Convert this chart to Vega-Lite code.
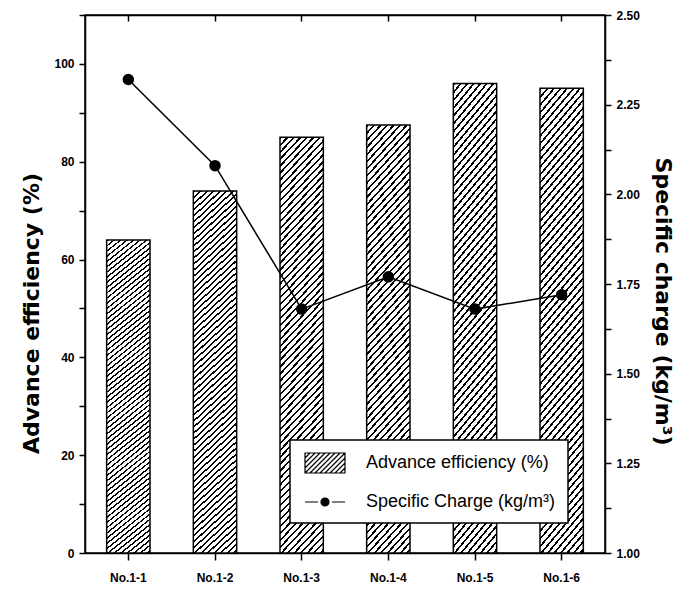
{
  "$schema": "https://vega.github.io/schema/vega-lite/v6.json",
  "width": 520,
  "height": 538,
  "autosize": {"type": "none"},
  "padding": {"left": 85, "top": 15, "right": 73, "bottom": 43},
  "background": "white",
  "config": {
    "view": {"stroke": "black", "strokeWidth": 1.5},
    "font": "Liberation Sans",
    "axis": {
      "domainColor": "black", "domainWidth": 1.5, "tickColor": "black", "tickWidth": 1.5,
      "labelColor": "black", "titleColor": "black", "labelFont": "Liberation Sans",
      "labelFontWeight": "bold", "labelFontSize": 12, "titleFont": "DejaVu Sans",
      "titleFontWeight": "bold", "titleFontSize": 22, "grid": false
    },
    "legend": {
      "orient": "none", "legendX": 205, "legendY": 425, "title": null,
      "labelFont": "Liberation Sans", "labelFontSize": 18, "labelColor": "black", "labelLimit": 400,
      "strokeColor": "black", "fillColor": "white", "padding": 12, "rowPadding": 15,
      "symbolSize": 400, "symbolOffset": 12, "labelOffset": 30
    }
  },
  "data": {
    "values": [
      {"no": "No.1-1", "eff": 64, "charge": 2.32},
      {"no": "No.1-2", "eff": 74, "charge": 2.08},
      {"no": "No.1-3", "eff": 85, "charge": 1.68},
      {"no": "No.1-4", "eff": 87.5, "charge": 1.77},
      {"no": "No.1-5", "eff": 96, "charge": 1.68},
      {"no": "No.1-6", "eff": 95, "charge": 1.72}
    ]
  },
  "layer": [
    {
      "mark": {
        "type": "bar",
        "strokeWidth": 1.5,
        "fill": {
          "gradient": "linear", "x1": 0, "y1": 0, "x2": 0.122, "y2": 1.098,
          "stops": [
{"offset":0,"color":"#000"},{"offset":0.005,"color":"#000"},{"offset":0.005,"color":"#fff"},{"offset":0.015,"color":"#fff"},
{"offset":0.015,"color":"#000"},{"offset":0.02,"color":"#000"},{"offset":0.02,"color":"#fff"},{"offset":0.03,"color":"#fff"},
{"offset":0.03,"color":"#000"},{"offset":0.035,"color":"#000"},{"offset":0.035,"color":"#fff"},{"offset":0.045,"color":"#fff"},
{"offset":0.045,"color":"#000"},{"offset":0.05,"color":"#000"},{"offset":0.05,"color":"#fff"},{"offset":0.06,"color":"#fff"},
{"offset":0.06,"color":"#000"},{"offset":0.065,"color":"#000"},{"offset":0.065,"color":"#fff"},{"offset":0.075,"color":"#fff"},
{"offset":0.075,"color":"#000"},{"offset":0.08,"color":"#000"},{"offset":0.08,"color":"#fff"},{"offset":0.09,"color":"#fff"},
{"offset":0.09,"color":"#000"},{"offset":0.095,"color":"#000"},{"offset":0.095,"color":"#fff"},{"offset":0.105,"color":"#fff"},
{"offset":0.105,"color":"#000"},{"offset":0.11,"color":"#000"},{"offset":0.11,"color":"#fff"},{"offset":0.12,"color":"#fff"},
{"offset":0.12,"color":"#000"},{"offset":0.125,"color":"#000"},{"offset":0.125,"color":"#fff"},{"offset":0.135,"color":"#fff"},
{"offset":0.135,"color":"#000"},{"offset":0.14,"color":"#000"},{"offset":0.14,"color":"#fff"},{"offset":0.15,"color":"#fff"},
{"offset":0.15,"color":"#000"},{"offset":0.155,"color":"#000"},{"offset":0.155,"color":"#fff"},{"offset":0.165,"color":"#fff"},
{"offset":0.165,"color":"#000"},{"offset":0.17,"color":"#000"},{"offset":0.17,"color":"#fff"},{"offset":0.18,"color":"#fff"},
{"offset":0.18,"color":"#000"},{"offset":0.185,"color":"#000"},{"offset":0.185,"color":"#fff"},{"offset":0.195,"color":"#fff"},
{"offset":0.195,"color":"#000"},{"offset":0.2,"color":"#000"},{"offset":0.2,"color":"#fff"},{"offset":0.21,"color":"#fff"},
{"offset":0.21,"color":"#000"},{"offset":0.215,"color":"#000"},{"offset":0.215,"color":"#fff"},{"offset":0.225,"color":"#fff"},
{"offset":0.225,"color":"#000"},{"offset":0.23,"color":"#000"},{"offset":0.23,"color":"#fff"},{"offset":0.24,"color":"#fff"},
{"offset":0.24,"color":"#000"},{"offset":0.245,"color":"#000"},{"offset":0.245,"color":"#fff"},{"offset":0.255,"color":"#fff"},
{"offset":0.255,"color":"#000"},{"offset":0.26,"color":"#000"},{"offset":0.26,"color":"#fff"},{"offset":0.27,"color":"#fff"},
{"offset":0.27,"color":"#000"},{"offset":0.275,"color":"#000"},{"offset":0.275,"color":"#fff"},{"offset":0.285,"color":"#fff"},
{"offset":0.285,"color":"#000"},{"offset":0.29,"color":"#000"},{"offset":0.29,"color":"#fff"},{"offset":0.3,"color":"#fff"},
{"offset":0.3,"color":"#000"},{"offset":0.305,"color":"#000"},{"offset":0.305,"color":"#fff"},{"offset":0.315,"color":"#fff"},
{"offset":0.315,"color":"#000"},{"offset":0.32,"color":"#000"},{"offset":0.32,"color":"#fff"},{"offset":0.33,"color":"#fff"},
{"offset":0.33,"color":"#000"},{"offset":0.335,"color":"#000"},{"offset":0.335,"color":"#fff"},{"offset":0.345,"color":"#fff"},
{"offset":0.345,"color":"#000"},{"offset":0.35,"color":"#000"},{"offset":0.35,"color":"#fff"},{"offset":0.36,"color":"#fff"},
{"offset":0.36,"color":"#000"},{"offset":0.365,"color":"#000"},{"offset":0.365,"color":"#fff"},{"offset":0.375,"color":"#fff"},
{"offset":0.375,"color":"#000"},{"offset":0.38,"color":"#000"},{"offset":0.38,"color":"#fff"},{"offset":0.39,"color":"#fff"},
{"offset":0.39,"color":"#000"},{"offset":0.395,"color":"#000"},{"offset":0.395,"color":"#fff"},{"offset":0.405,"color":"#fff"},
{"offset":0.405,"color":"#000"},{"offset":0.41,"color":"#000"},{"offset":0.41,"color":"#fff"},{"offset":0.42,"color":"#fff"},
{"offset":0.42,"color":"#000"},{"offset":0.425,"color":"#000"},{"offset":0.425,"color":"#fff"},{"offset":0.435,"color":"#fff"},
{"offset":0.435,"color":"#000"},{"offset":0.44,"color":"#000"},{"offset":0.44,"color":"#fff"},{"offset":0.45,"color":"#fff"},
{"offset":0.45,"color":"#000"},{"offset":0.455,"color":"#000"},{"offset":0.455,"color":"#fff"},{"offset":0.465,"color":"#fff"},
{"offset":0.465,"color":"#000"},{"offset":0.47,"color":"#000"},{"offset":0.47,"color":"#fff"},{"offset":0.48,"color":"#fff"},
{"offset":0.48,"color":"#000"},{"offset":0.485,"color":"#000"},{"offset":0.485,"color":"#fff"},{"offset":0.495,"color":"#fff"},
{"offset":0.495,"color":"#000"},{"offset":0.5,"color":"#000"},{"offset":0.5,"color":"#fff"},{"offset":0.51,"color":"#fff"},
{"offset":0.51,"color":"#000"},{"offset":0.515,"color":"#000"},{"offset":0.515,"color":"#fff"},{"offset":0.525,"color":"#fff"},
{"offset":0.525,"color":"#000"},{"offset":0.53,"color":"#000"},{"offset":0.53,"color":"#fff"},{"offset":0.54,"color":"#fff"},
{"offset":0.54,"color":"#000"},{"offset":0.545,"color":"#000"},{"offset":0.545,"color":"#fff"},{"offset":0.555,"color":"#fff"},
{"offset":0.555,"color":"#000"},{"offset":0.56,"color":"#000"},{"offset":0.56,"color":"#fff"},{"offset":0.57,"color":"#fff"},
{"offset":0.57,"color":"#000"},{"offset":0.575,"color":"#000"},{"offset":0.575,"color":"#fff"},{"offset":0.585,"color":"#fff"},
{"offset":0.585,"color":"#000"},{"offset":0.59,"color":"#000"},{"offset":0.59,"color":"#fff"},{"offset":0.6,"color":"#fff"},
{"offset":0.6,"color":"#000"},{"offset":0.605,"color":"#000"},{"offset":0.605,"color":"#fff"},{"offset":0.615,"color":"#fff"},
{"offset":0.615,"color":"#000"},{"offset":0.62,"color":"#000"},{"offset":0.62,"color":"#fff"},{"offset":0.63,"color":"#fff"},
{"offset":0.63,"color":"#000"},{"offset":0.635,"color":"#000"},{"offset":0.635,"color":"#fff"},{"offset":0.645,"color":"#fff"},
{"offset":0.645,"color":"#000"},{"offset":0.65,"color":"#000"},{"offset":0.65,"color":"#fff"},{"offset":0.66,"color":"#fff"},
{"offset":0.66,"color":"#000"},{"offset":0.665,"color":"#000"},{"offset":0.665,"color":"#fff"},{"offset":0.675,"color":"#fff"},
{"offset":0.675,"color":"#000"},{"offset":0.68,"color":"#000"},{"offset":0.68,"color":"#fff"},{"offset":0.69,"color":"#fff"},
{"offset":0.69,"color":"#000"},{"offset":0.695,"color":"#000"},{"offset":0.695,"color":"#fff"},{"offset":0.705,"color":"#fff"},
{"offset":0.705,"color":"#000"},{"offset":0.71,"color":"#000"},{"offset":0.71,"color":"#fff"},{"offset":0.72,"color":"#fff"},
{"offset":0.72,"color":"#000"},{"offset":0.725,"color":"#000"},{"offset":0.725,"color":"#fff"},{"offset":0.735,"color":"#fff"},
{"offset":0.735,"color":"#000"},{"offset":0.74,"color":"#000"},{"offset":0.74,"color":"#fff"},{"offset":0.75,"color":"#fff"},
{"offset":0.75,"color":"#000"},{"offset":0.755,"color":"#000"},{"offset":0.755,"color":"#fff"},{"offset":0.765,"color":"#fff"},
{"offset":0.765,"color":"#000"},{"offset":0.77,"color":"#000"},{"offset":0.77,"color":"#fff"},{"offset":0.78,"color":"#fff"},
{"offset":0.78,"color":"#000"},{"offset":0.785,"color":"#000"},{"offset":0.785,"color":"#fff"},{"offset":0.795,"color":"#fff"},
{"offset":0.795,"color":"#000"},{"offset":0.8,"color":"#000"},{"offset":0.8,"color":"#fff"},{"offset":0.81,"color":"#fff"},
{"offset":0.81,"color":"#000"},{"offset":0.815,"color":"#000"},{"offset":0.815,"color":"#fff"},{"offset":0.825,"color":"#fff"},
{"offset":0.825,"color":"#000"},{"offset":0.83,"color":"#000"},{"offset":0.83,"color":"#fff"},{"offset":0.84,"color":"#fff"},
{"offset":0.84,"color":"#000"},{"offset":0.845,"color":"#000"},{"offset":0.845,"color":"#fff"},{"offset":0.855,"color":"#fff"},
{"offset":0.855,"color":"#000"},{"offset":0.86,"color":"#000"},{"offset":0.86,"color":"#fff"},{"offset":0.87,"color":"#fff"},
{"offset":0.87,"color":"#000"},{"offset":0.875,"color":"#000"},{"offset":0.875,"color":"#fff"},{"offset":0.885,"color":"#fff"},
{"offset":0.885,"color":"#000"},{"offset":0.89,"color":"#000"},{"offset":0.89,"color":"#fff"},{"offset":0.9,"color":"#fff"},
{"offset":0.9,"color":"#000"},{"offset":0.905,"color":"#000"},{"offset":0.905,"color":"#fff"},{"offset":0.915,"color":"#fff"},
{"offset":0.915,"color":"#000"},{"offset":0.92,"color":"#000"},{"offset":0.92,"color":"#fff"},{"offset":0.93,"color":"#fff"},
{"offset":0.93,"color":"#000"},{"offset":0.935,"color":"#000"},{"offset":0.935,"color":"#fff"},{"offset":0.945,"color":"#fff"},
{"offset":0.945,"color":"#000"},{"offset":0.95,"color":"#000"},{"offset":0.95,"color":"#fff"},{"offset":0.96,"color":"#fff"},
{"offset":0.96,"color":"#000"},{"offset":0.965,"color":"#000"},{"offset":0.965,"color":"#fff"},{"offset":0.975,"color":"#fff"},
{"offset":0.975,"color":"#000"},{"offset":0.98,"color":"#000"},{"offset":0.98,"color":"#fff"},{"offset":0.99,"color":"#fff"},
{"offset":0.99,"color":"#000"},{"offset":0.995,"color":"#000"},{"offset":0.995,"color":"#fff"},{"offset":1,"color":"#fff"}
          ]
        }
      },
      "encoding": {
        "x": {
          "field": "no", "type": "nominal", "sort": null,
          "scale": {"paddingInner": 0.5, "paddingOuter": 0.25},
          "axis": {"orient": "bottom", "title": null, "labelAngle": 0, "tickSize": 7, "labelPadding": 12}
        },
        "y": {
          "field": "eff", "type": "quantitative",
          "scale": {"domain": [0, 110], "nice": false},
          "axis": {
            "orient": "left", "title": "Advance efficiency (%)",
            "values": [0, 10, 20, 30, 40, 50, 60, 70, 80, 90, 100, 110],
            "labelExpr": "datum.value % 20 ? '' : datum.label",
            "labelPadding": 5, "titlePadding": 10, "tickSize": 6, "titleY": 298,
            "encode": {"ticks": {"update": {"x2": {"signal": "datum.value % 20 ? -3 : -6"}}}}
          }
        },
        "stroke": {
          "datum": "Advance efficiency (%)", "type": "nominal",
          "scale": {"domain": ["Advance efficiency (%)", "Specific Charge (kg/m³)"], "range": ["black", "black"]},
          "legend": {
            "encode": {
              "legend": {"update": {"strokeWidth": {"value": 1.5}}},
              "symbols": {"update": {
                "shape": {"signal": "datum.value === 'Advance efficiency (%)' ? 'M-2,-1H2V1H-2Z M-2,-0.5L-1.5,-1 M-2,0L-1,-1 M-2,0.5L-0.5,-1 M-2,1L0,-1 M-1.5,1L0.5,-1 M-1,1L1,-1 M-0.5,1L1.5,-1 M0,1L2,-1 M0.5,1L2,-0.5 M1,1L2,0 M1.5,1L2,0.5' : 'M-2,0H-0.7 M0.7,0H2 M-0.4,0A0.4,0.4 0 1,1 0.4,0A0.4,0.4 0 1,1 -0.4,0Z'"},
                "fill": {"signal": "datum.value === 'Advance efficiency (%)' ? 'white' : 'black'"},
                "stroke": {"value": "black"},
                "strokeWidth": {"value": 1.2},
                "size": {"value": 400},
                "opacity": {"value": 1}
              }}
            }
          }
        }
      }
    },
    {
      "mark": {"type": "line", "strokeWidth": 1.5, "point": {"filled": true, "fill": "black", "size": 90}},
      "encoding": {
        "x": {
          "field": "no", "type": "nominal", "sort": null,
          "axis": {"orient": "top", "title": null, "labels": false, "tickSize": -6}
        },
        "y": {
          "field": "charge", "type": "quantitative",
          "scale": {"domain": [1, 2.5], "nice": false},
          "axis": {
            "orient": "right", "title": "Specific charge (kg/m³)",
            "values": [1, 1.125, 1.25, 1.375, 1.5, 1.625, 1.75, 1.875, 2, 2.125, 2.25, 2.375, 2.5],
            "labelExpr": "(datum.value * 8) % 2 ? '' : format(datum.value, '.2f')",
            "labelPadding": 5, "titlePadding": 11, "tickSize": 6, "titleY": 286,
            "encode": {"ticks": {"update": {"x2": {"signal": "(datum.value * 8) % 2 ? 3 : 6"}}}}
          }
        },
        "stroke": {
          "datum": "Specific Charge (kg/m³)", "type": "nominal",
          "legend": {
            "encode": {
              "legend": {"update": {"strokeWidth": {"value": 1.5}}},
              "symbols": {"update": {
                "shape": {"signal": "datum.value === 'Advance efficiency (%)' ? 'M-2,-1H2V1H-2Z M-2,-0.5L-1.5,-1 M-2,0L-1,-1 M-2,0.5L-0.5,-1 M-2,1L0,-1 M-1.5,1L0.5,-1 M-1,1L1,-1 M-0.5,1L1.5,-1 M0,1L2,-1 M0.5,1L2,-0.5 M1,1L2,0 M1.5,1L2,0.5' : 'M-2,0H-0.7 M0.7,0H2 M-0.4,0A0.4,0.4 0 1,1 0.4,0A0.4,0.4 0 1,1 -0.4,0Z'"},
                "fill": {"signal": "datum.value === 'Advance efficiency (%)' ? 'white' : 'black'"},
                "stroke": {"value": "black"},
                "strokeWidth": {"value": 1.2},
                "size": {"value": 400},
                "opacity": {"value": 1}
              }}
            }
          }
        }
      }
    }
  ],
  "resolve": {"scale": {"y": "independent"}, "axis": {"x": "independent"}}
}
